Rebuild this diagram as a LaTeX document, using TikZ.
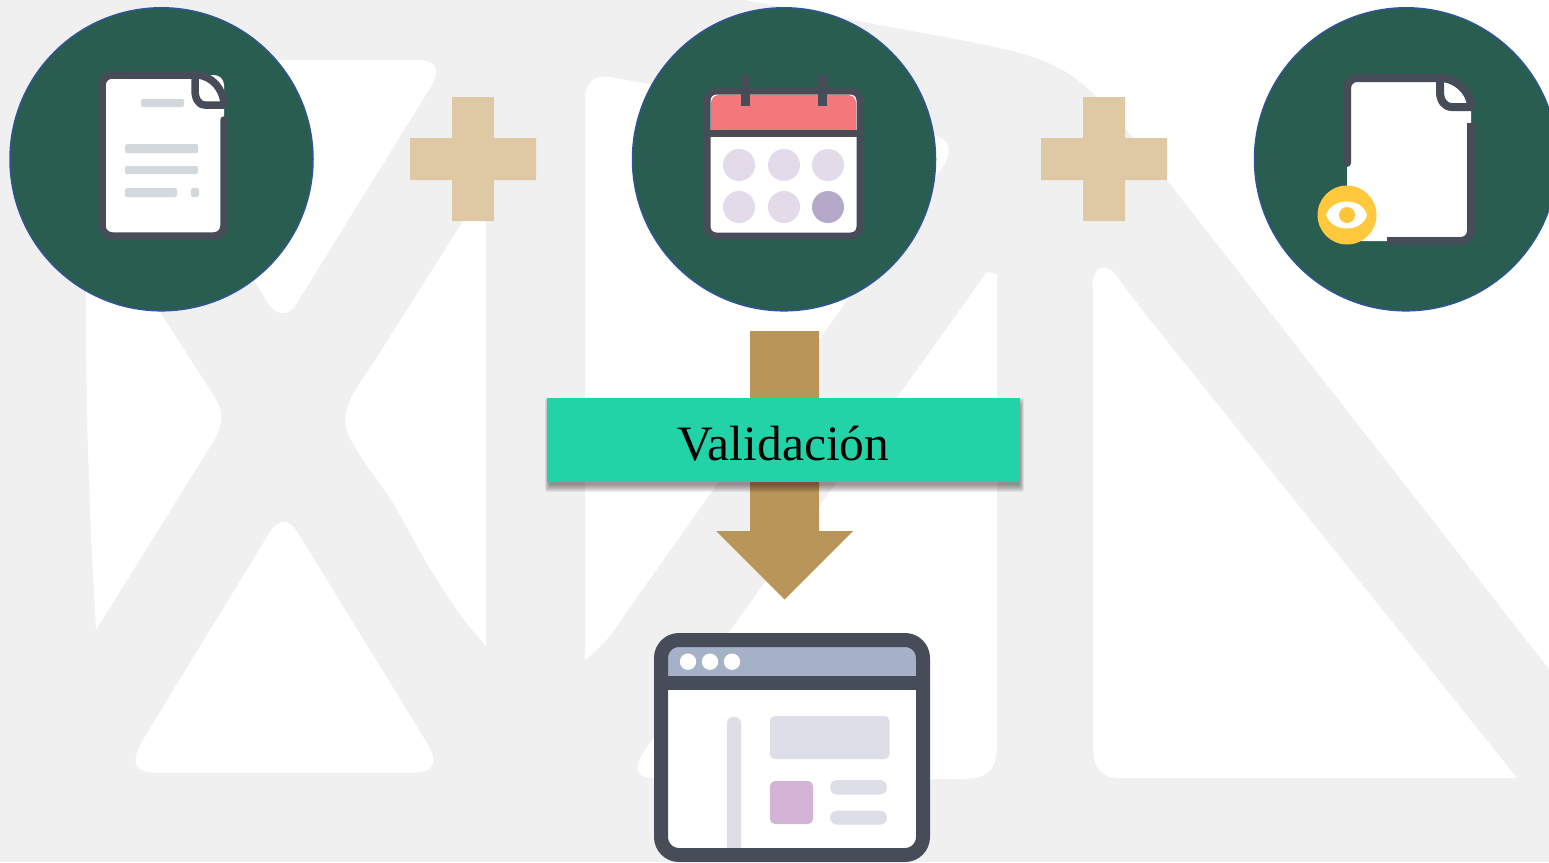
\documentclass[tikz,border=0pt]{standalone}
\usepackage{fontspec}
\setmainfont{Liberation Serif}
\definecolor{bggray}{HTML}{F0F0F0}
\definecolor{circfill}{HTML}{295D4F}
\definecolor{circline}{HTML}{2F5597}
\definecolor{plusc}{HTML}{DFC9A4}
\definecolor{arrowc}{HTML}{BA955A}
\definecolor{boxc}{HTML}{21D3A7}
\definecolor{ink}{HTML}{474D58}
\definecolor{softline}{HTML}{D3D8DC}
\definecolor{calred}{HTML}{F4777B}
\definecolor{callight}{HTML}{E3DAEA}
\definecolor{caldark}{HTML}{B5A8C8}
\definecolor{winhead}{HTML}{A5B1C6}
\definecolor{wingray}{HTML}{DDDEE7}
\definecolor{winpurple}{HTML}{D3B3D6}
\definecolor{eyeyellow}{HTML}{FFC83D}
\tikzset{
  bgshape/.style={fill=white,draw=none},
  bubble/.style={circle,fill=circfill,draw=circline,line width=1.5pt,minimum size=303pt,inner sep=0pt},
  plusmark/.style={fill=plusc,draw=none},
  iconline/.style={draw=ink,line cap=round,line join=round},
  softbar/.style={fill=softline,draw=none,rounded corners=1.5pt},
  winbar/.style={fill=wingray,draw=none},
}
\begin{document}
\begin{tikzpicture}[x=1pt,y=-1pt]
\path[clip] (0,0) rectangle (1549,862);
\fill[bggray] (0,0) rectangle (1549,862);
% --- pale background lettering
% left arm top
\path[bgshape] (200,60) -- (415,60) .. controls (438,60) and (441,70) .. (430,88)
  -- (300,298) .. controls (290,318) and (277,318) .. (266,300) -- (255,282) -- (180,150) -- cycle;
% left arm bottom
\path[bgshape] (88,200) .. controls (85,300) and (84,420) .. (96,630)
  -- (208,450) .. controls (225,425) and (225,412) .. (212,393) -- (160,312) -- (120,240) -- cycle;
% right arm
\path[bgshape] (486,185) -- (372,365) .. controls (345,403) and (337,420) .. (354,445)
  .. controls (365,465) and (380,482) .. (393,503) .. controls (415,540) and (440,595) .. (486,646) -- cycle;
% lower triangle
\path[bgshape] (270,532) .. controls (279,518) and (288,518) .. (298,533)
  -- (424,738) .. controls (440,762) and (436,773) .. (410,773)
  -- (160,773) .. controls (132,773) and (130,762) .. (144,738) -- cycle;
% middle panel left
\path[bgshape] (585,660) -- (585,100) .. controls (585,80) and (595,74) .. (615,78)
  -- (930,134) .. controls (950,138) and (954,150) .. (942,168)
  -- (833,320) -- (628,610) .. controls (610,638) and (600,648) .. (585,660) -- cycle;
% middle panel right
\path[bgshape] (987,272) -- (997,274) -- (997,745) .. controls (997,770) and (988,779) .. (962,779)
  -- (655,778) .. controls (635,778) and (633,768) .. (645,750) -- cycle;
% top right field
\path[bgshape] (745,0) -- (945,37) .. controls (1030,53) and (1060,60) .. (1097,97)
  .. controls (1115,115) and (1140,145) .. (1167,180) -- (1549,669) -- (1549,0) -- cycle;
% right triangle
\path[bgshape] (1093,290) .. controls (1090,268) and (1106,258) .. (1118,278)
  .. controls (1130,295) and (1150,320) .. (1170,345) -- (1517,778) -- (1122,778)
  .. controls (1100,778) and (1093,768) .. (1093,745) -- cycle;
% --- bubbles
\node[bubble] (docbubble) at (161.5,159.3) {};
\node[bubble] (calbubble) at (784,159.3) {};
\node[bubble] (seebubble) at (1406,159.3) {};
% --- plus marks
\path[plusmark] (452,97) -- (494,97) -- (494,138) -- (536,138) -- (536,180) -- (494,180) -- (494,221) -- (452,221) -- (452,180) -- (410,180) -- (410,138) -- (452,138) -- cycle;
\path[plusmark] (1083,97) -- (1125,97) -- (1125,138) -- (1167,138) -- (1167,180) -- (1125,180) -- (1125,221) -- (1083,221) -- (1083,180) -- (1041,180) -- (1041,138) -- (1083,138) -- cycle;
% --- document icon
\path[fill=white,rounded corners=10pt] (102,75) rectangle (224,236);
\draw[iconline,line width=7.5pt] (224,120) -- (224,226) arc[start angle=0,end angle=90,radius=10] -- (112,236)
  arc[start angle=90,end angle=180,radius=10] -- (102,85) arc[start angle=180,end angle=270,radius=10] -- (196,75)
  .. controls (212,75) and (224,90) .. (224,105) -- (205,105) .. controls (198,105) and (195,98) .. (195,90) -- (195,75);
\path[softbar] (141,99) rectangle (184,107);
\path[softbar] (125,144) rectangle (198,153);
\path[softbar] (125,166) rectangle (198,174);
\path[softbar] (125,188) rectangle (177,197);
\path[softbar] (191,188) rectangle (199,197);
% --- calendar icon
\path[fill=white,rounded corners=9pt] (707,91) rectangle (860,236);
\fill[calred] (711,130) -- (711,103) arc[start angle=180,end angle=270,radius=8] -- (848,95) arc[start angle=270,end angle=360,radius=8] -- (856,130) -- cycle;
\draw[iconline,line width=7pt,rounded corners=9pt] (707,91) rectangle (860,236);
\draw[iconline,line width=7pt,line cap=butt] (707,133.5) -- (860,133.5);
\draw[iconline,line width=8.5pt,line cap=butt] (745.5,75) -- (745.5,106);
\draw[iconline,line width=8.5pt,line cap=butt] (822.5,75) -- (822.5,106);
\foreach \cx/\cy/\cc in {739/165/callight,784/165/callight,828/165/callight,739/207/callight,784/207/callight,828/207/caldark}
  \fill[\cc] (\cx,\cy) circle[radius=16];
% --- document with eye icon
\path[fill=white] (1347,166) -- (1347,88) arc[start angle=180,end angle=270,radius=10] -- (1440,78)
  .. controls (1455,78) and (1471,92) .. (1471,108) -- (1471,231) arc[start angle=0,end angle=90,radius=10] -- (1347,241) -- cycle;
\draw[iconline,line width=8pt,line cap=butt] (1387,241) -- (1461,241) arc[start angle=90,end angle=0,radius=10] -- (1471,123);
\draw[iconline,line width=8pt] (1347,163) -- (1347,88) arc[start angle=180,end angle=270,radius=10] -- (1440,78)
  .. controls (1456,78) and (1471,92) .. (1471,107) -- (1452,107) .. controls (1444,107) and (1440,100) .. (1440,92) -- (1440,78);
\fill[eyeyellow] (1347,215) circle[radius=29.5];
\fill[white] (1326,215) .. controls (1332,197) and (1362,197) .. (1367,215) .. controls (1362,233) and (1332,233) .. (1326,215) -- cycle;
\fill[eyeyellow!95!orange] (1347,215) circle[radius=8];
% --- arrow
\path[fill=arrowc] (750,331) -- (819,331) -- (819,531) -- (853,531) -- (784.5,599.5) -- (716,531) -- (750,531) -- cycle;
% --- box shadow
\foreach \e in {5,4,3,2,1,0,-1,-2}
  \fill[black,opacity=.06,rounded corners=2pt] ({548-0.6*\e},{403-\e}) rectangle ({1021+0.6*\e},{487+\e});
% --- box
\node[fill=boxc,minimum width=473pt,minimum height=84pt,inner sep=0pt,font=\fontsize{49.5}{50}\selectfont,text=black] (valbox) at (783.5,440) {\raisebox{-20pt}[0pt][0pt]{Validación}};
% --- window icon
\path[fill=white,rounded corners=18pt] (661,640) rectangle (923,855);
\fill[winhead] (661,683) -- (661,658) arc[start angle=180,end angle=270,radius=18] -- (905,640) arc[start angle=270,end angle=360,radius=18] -- (923,683) -- cycle;
\foreach \dx in {688,710,732} \fill[white] (\dx,661.7) circle[radius=8.2];
\path[winbar,rounded corners=6pt] (727,860) -- (727,717) -- (741,717) -- (741,860) -- cycle;
\path[winbar,rounded corners=5pt] (770,716) rectangle (889.5,759);
\path[fill=winpurple,rounded corners=5pt] (770,781) rectangle (813,824);
\path[winbar,rounded corners=7pt] (830,780) rectangle (887,794.5);
\path[winbar,rounded corners=7pt] (830,810.7) rectangle (887,824.7);
\draw[iconline,line width=14pt,rounded corners=18pt] (661,640) rectangle (923,855);
\draw[iconline,line width=14pt,line cap=butt] (661,683) -- (923,683);
\end{tikzpicture}
\end{document}
